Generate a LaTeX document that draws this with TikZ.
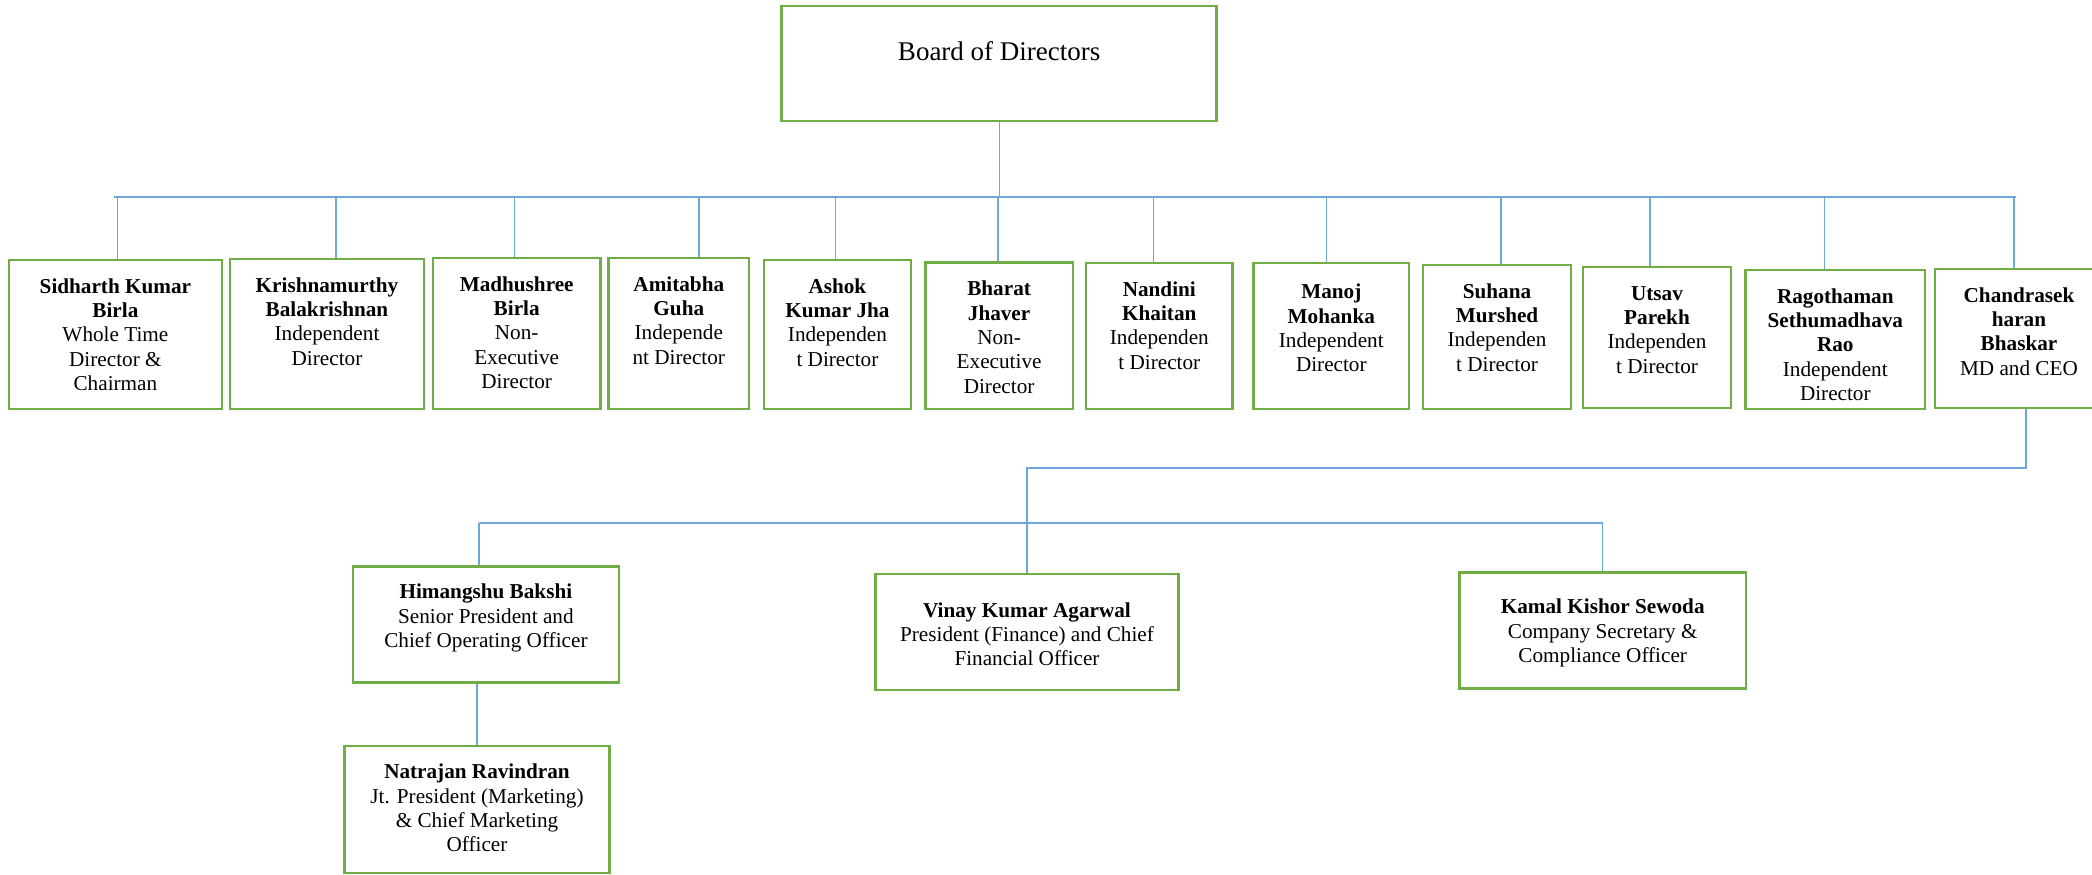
\documentclass[tikz,border=0pt]{standalone}
\usepackage{fontspec}
\setmainfont{Liberation Serif}
\usepackage{xcolor}
\definecolor{boxgreen}{HTML}{70AD47}
\definecolor{linkblue}{HTML}{6FA6DB}
\newcommand{\cardtext}[5][16.5pt]{\parbox[c][#3][t]{#2}{\centering\rule{0pt}{#1}\textbf{#4}\\#5}}

\begin{document}
\begin{tikzpicture}[
        x=0.5pt, y=-0.5pt,
        font=\fontsize{10.6pt}{12.2pt}\selectfont,
        card/.style={rectangle, draw=boxgreen, line width=1.3pt, inner sep=0pt},
        link/.style={draw=linkblue, line width=0.7pt}
    ]
        \useasboundingbox (0,0) rectangle (2092,874);
        \clip (0,0) rectangle (2092,874);

        \node[card, font=\fontsize{13.5pt}{16pt}\selectfont] (board) at (999.2,63.4)
            {\parbox[c][57.6pt][t]{217.5pt}{\centering\rule{0pt}{27.2pt}Board of Directors}};

        \node[card] (sidharth) at (115.4,334.5) {\cardtext{106.5pt}{74.5pt}{Sidharth Kumar\\Birla}{Whole Time\\Director \&\\Chairman}};
        \node[card] (krishna) at (327,334) {\cardtext{97pt}{75pt}{Krishnamurthy\\Balakrishnan}{Independent\\Director}};
        \node[card] (madhu) at (516.7,333.5) {\cardtext{83.7pt}{75.5pt}{Madhushree\\Birla}{Non-\\Executive\\Director}};
        \node[card] (amitabha) at (678.8,333.5) {\cardtext{70.2pt}{75.5pt}{Amitabha\\Guha}{Independe\\nt Director}};
        \node[card] (ashok) at (837.4,334.5) {\cardtext{73.6pt}{74.5pt}{Ashok\\Kumar Jha}{Independen\\t Director}};
        \node[card] (bharat) at (999.1,335.8) {\cardtext{73.7pt}{73.2pt}{Bharat\\Jhaver}{Non-\\Executive\\Director}};
        \node[card] (nandini) at (1159.3,336) {\cardtext{73.3pt}{73pt}{Nandini\\Khaitan}{Independen\\t Director}};
        \node[card] (manoj) at (1331.3,336) {\cardtext[17.8pt]{77.7pt}{73pt}{Manoj\\Mohanka}{Independent\\Director}};
        \node[card] (suhana) at (1497,337) {\cardtext{74pt}{72pt}{Suhana\\Murshed}{Independen\\t Director}};
        \node[card] (utsav) at (1657,337.5) {\cardtext{74pt}{70.5pt}{Utsav\\Parekh}{Independen\\t Director}};
        \node[card] (ragothaman) at (1835.3,339.5) {\cardtext{89.8pt}{69.5pt}{Ragothaman\\Sethumadhava\\Rao}{Independent\\Director}};
        \node[card] (ceo) at (2019,338.5) {\cardtext{84pt}{69.5pt}{Chandrasek\\haran\\Bhaskar}{MD and CEO}};

        \node[card] (himangshu) at (485.9,624.7) {\cardtext[16pt]{132.9pt}{58pt}{Himangshu Bakshi}{Senior President and\\Chief Operating Officer}};
        \node[card] (natrajan) at (477,809.5) {\cardtext[16.3pt]{132.6pt}{63.5pt}{Natrajan Ravindran}{Jt. President (Marketing)\\\& Chief Marketing\\Officer}};
        \node[card] (vinay) at (1027,632) {\cardtext[21.5pt]{151.5pt}{58pt}{Vinay Kumar Agarwal}{President (Finance) and Chief\\Financial Officer}};
        \node[card] (kamal) at (1602.7,630.5) {\cardtext[20.8pt]{143.3pt}{58.2pt}{Kamal Kishor Sewoda}{Company Secretary \&\\Compliance Officer}};

        \coordinate (busL) at (114,197);
        \coordinate (busR) at (2016,197);
        \draw[link] (board.south) -- (board.south |- busL);
        \draw[link] (busL) -- (busR);
        \foreach \n/\s in {sidharth/2, krishna/9, madhu/-2, amitabha/20, ashok/-2, bharat/-1,
                nandini/-6, manoj/-5, suhana/4, utsav/-7, ragothaman/-11, ceo/-5}
            \draw[link] (\n.north) ++(\s,0) coordinate (stem) -- (stem |- busL);

        \coordinate (mgmt) at (vinay.north |- 0,468);
        \draw[link] (ceo.south) ++(7,0) coordinate (drop) -- (drop |- mgmt) -- (mgmt) -- (vinay.north);
        \coordinate (opsL) at (479,523);
        \coordinate (opsR) at (kamal.north |- 0,523);
        \draw[link] (opsL) -- (opsR) -- (kamal.north);
        \draw[link] (opsL) -- (opsL |- himangshu.north);
        \draw[link] (himangshu.south -| natrajan.north) -- (natrajan.north);
    \end{tikzpicture}
\end{document}
